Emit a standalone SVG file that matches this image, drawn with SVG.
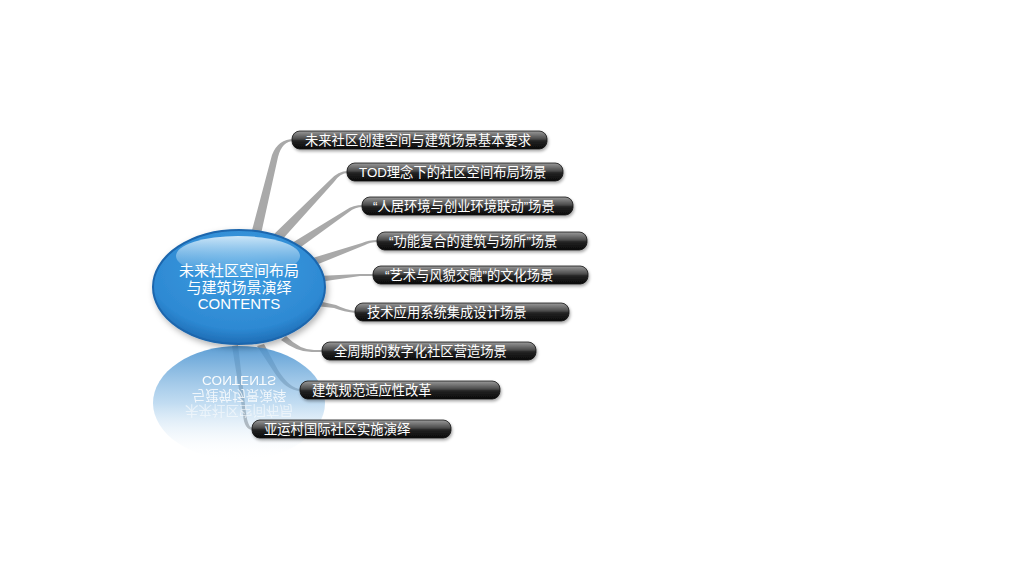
<svg xmlns="http://www.w3.org/2000/svg" width="1024" height="576" viewBox="0 0 1024 576">
<defs>
<linearGradient id="pill" x1="0" y1="0" x2="0" y2="1">
<stop offset="0" stop-color="#9a9a9a"/>
<stop offset="0.45" stop-color="#4a4a4a"/>
<stop offset="0.55" stop-color="#222"/>
<stop offset="1" stop-color="#0a0a0a"/>
</linearGradient>
<radialGradient id="ball" cx="0.5" cy="0.35" r="0.65">
<stop offset="0" stop-color="#3f9de0"/>
<stop offset="0.8" stop-color="#2d89d3"/>
<stop offset="1" stop-color="#1f6db5"/>
</radialGradient>
<linearGradient id="hl" x1="0" y1="0" x2="0" y2="1">
<stop offset="0" stop-color="#dcefFb" stop-opacity="0.9"/>
<stop offset="1" stop-color="#7fbdea" stop-opacity="0.2"/>
</linearGradient>
<linearGradient id="refl" x1="0" y1="0" x2="0" y2="1">
<stop offset="0" stop-color="#4a93d0" stop-opacity="0.9"/>
<stop offset="0.5" stop-color="#8ebfe6" stop-opacity="0.55"/>
<stop offset="1" stop-color="#ffffff" stop-opacity="0"/>
</linearGradient>
<filter id="sh" x="-20%" y="-20%" width="140%" height="160%">
<feDropShadow dx="1" dy="2" stdDeviation="1.5" flood-color="#000" flood-opacity="0.35"/>
</filter>
<filter id="sh2" x="-20%" y="-20%" width="140%" height="140%">
<feDropShadow dx="2" dy="3" stdDeviation="3" flood-color="#000" flood-opacity="0.3"/>
</filter>
</defs>
<style>
.pill{fill:url(#pill);stroke:#111;stroke-width:0.8;filter:url(#sh)}
.lbl{font-family:"Liberation Sans","Noto Sans CJK SC",sans-serif;font-size:13.3px;fill:#fff}
.ctr{font-family:"Liberation Sans","Noto Sans CJK SC",sans-serif;font-size:15px;fill:#fff;text-anchor:middle}
.rtx{font-family:"Liberation Sans","Noto Sans CJK SC",sans-serif;font-size:13.5px;fill:#fff;text-anchor:middle}
.con{fill:#a9a9a9}
</style>
<rect width="1024" height="576" fill="#fff"/>
<g id="connectors">
<path class="con" d="M251,234 L272,155 Q278,139 294,139 L294,141 Q282,141 278,157 L261,234 Z"/>
<path class="con" d="M270,238 L330,180 Q338,171 348,171 L348,173 Q340,173 334,182 L280,242 Z"/>
<path class="con" d="M287,246 L346,210 Q353,205 363,205 L363,207 Q355,207 349,212 L294,252 Z"/>
<path class="con" d="M306,260 L362,243 Q368,240 378,240 L378,242 Q370,242 365,245 L311,267 Z"/>
<path class="con" d="M318,276 L360,274 Q366,274 374,274 L374,276 Q366,276 360,276 L319,282 Z"/>
<path class="con" d="M318,301 L336,305 Q346,310 356,311 L356,313 Q344,312 334,308 L316,306 Z"/>
<path class="con" d="M286,336 Q300,350 314,350 L323,350 L323,352 L314,352 Q298,353 281,340 Z"/>
<path class="con" d="M264,344 L278,370 Q290,389 301,389 L301,391 Q286,391 274,372 L257,346 Z"/>
<path class="con" d="M238,345 L246,413 Q248,428 253,428 L253,430 Q244,430 243,414 L232,346 Z"/>
</g>
<g id="reflection">
<ellipse cx="239" cy="403" rx="86" ry="57" fill="url(#refl)"/>
<g transform="scale(1,-1)">
<text class="rtx" x="239" y="-376" opacity="0.95">CONTENTS</text>
<text class="rtx" x="239" y="-391.2" opacity="0.8">与建筑场景演绎</text>
<text class="rtx" x="239" y="-406.4" opacity="0.55">未来社区空间布局</text>
</g>
</g>
<g id="center">
<ellipse cx="239" cy="287" rx="86" ry="57" fill="url(#ball)" stroke="#1b66ad" stroke-width="2" filter="url(#sh2)"/>
<ellipse cx="238" cy="256" rx="62" ry="20" fill="url(#hl)"/>
<text class="ctr" x="239" y="276">未来社区空间布局</text>
<text class="ctr" x="239" y="293">与建筑场景演绎</text>
<text class="ctr" x="239" y="309">CONTENTS</text>
</g>
<g id="n1"><rect class="pill" x="292" y="131" width="255" height="18" rx="8"/><text class="lbl" x="305" y="145">未来社区创建空间与建筑场景基本要求</text></g>
<g id="n2"><rect class="pill" x="347" y="163" width="216" height="18" rx="8"/><text class="lbl" x="359" y="177">TOD理念下的社区空间布局场景</text></g>
<g id="n3"><rect class="pill" x="362" y="197" width="211" height="18" rx="8"/><text class="lbl" x="373" y="211">“人居环境与创业环境联动”场景</text></g>
<g id="n4"><rect class="pill" x="377" y="232" width="210" height="18" rx="8"/><text class="lbl" x="389" y="246">“功能复合的建筑与场所”场景</text></g>
<g id="n5"><rect class="pill" x="373" y="266" width="215" height="18" rx="8"/><text class="lbl" x="385" y="280">“艺术与风貌交融”的文化场景</text></g>
<g id="n6"><rect class="pill" x="355" y="303" width="214" height="18" rx="8"/><text class="lbl" x="367" y="317">技术应用系统集成设计场景</text></g>
<g id="n7"><rect class="pill" x="322" y="342" width="214" height="18" rx="8"/><text class="lbl" x="334" y="356">全周期的数字化社区营造场景</text></g>
<g id="n8"><rect class="pill" x="300" y="381" width="200" height="18" rx="8"/><text class="lbl" x="312" y="395">建筑规范适应性改革</text></g>
<g id="n9"><rect class="pill" x="252" y="420" width="199" height="18" rx="8"/><text class="lbl" x="264" y="434">亚运村国际社区实施演绎</text></g>
</svg>
